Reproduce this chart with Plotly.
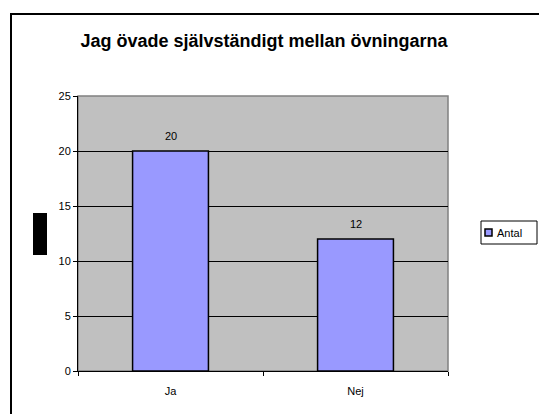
import plotly.graph_objects as go

categories = ["Ja", "Nej"]
antal = [20, 12]
y_ticks = [0, 5, 10, 15, 20, 25]
series_name = "Antal"

PL, PR, PT, PB = 78, 448, 96, 371  # plot area in pixels
pw, ph = PR - PL, PB - PT


def px_x(x):
    return (x - PL) / pw


def px_y(y):
    return (PB - y) / ph


fig = go.Figure()
fig.add_trace(go.Bar(
    x=categories, y=antal, name=series_name,
    marker=dict(color="#9999FF", line=dict(color="black", width=1.5)),
    width=0.41, showlegend=False,
))

for c, v in zip(categories, antal):
    fig.add_annotation(x=c, y=v, text=str(v), showarrow=False,
                       yshift=15, font=dict(size=11, color="black"))

fig.update_layout(
    width=539, height=414,
    margin=dict(l=PL, r=539 - PR, t=PT, b=414 - PB),
    paper_bgcolor="white", plot_bgcolor="#C0C0C0",
    font=dict(family="Arial, Liberation Sans", size=11, color="black"),
    title=dict(text="<b>Jag övade självständigt mellan övningarna</b>",
               x=264 / 539, xanchor="center", y=1 - 41 / 414, yanchor="middle",
               font=dict(size=18, color="black")),
    showlegend=False,
    bargap=0.59,
)

fig.update_xaxes(showline=True, linecolor="black", linewidth=1,
                 ticks="outside", tickson="boundaries", ticklen=4,
                 tickcolor="black", showgrid=False, ticklabelstandoff=10)
fig.update_yaxes(range=[0, 25], tickvals=y_ticks, showline=True,
                 linecolor="black", linewidth=1, ticks="outside", ticklen=4,
                 tickcolor="black", showgrid=True, gridcolor="black",
                 gridwidth=1, zeroline=False)

# plot area frame (grey top/right)
fig.add_shape(type="rect", xref="paper", yref="paper", x0=0, x1=1, y0=0, y1=1,
              line=dict(color="#808080", width=1.5), layer="below")
# outer chart frame
fig.add_shape(type="rect", xref="paper", yref="paper",
              x0=px_x(11), x1=px_x(545), y0=px_y(420), y1=px_y(14),
              line=dict(color="black", width=2))
# y-axis title block
fig.add_shape(type="rect", xref="paper", yref="paper",
              x0=px_x(33), x1=px_x(47), y0=px_y(255), y1=px_y(213),
              fillcolor="black", line=dict(width=0))

# legend box
fig.add_shape(type="rect", xref="paper", yref="paper",
              x0=px_x(481), x1=px_x(537), y0=px_y(244), y1=px_y(221),
              fillcolor="white", line=dict(color="black", width=1))
fig.add_shape(type="rect", xref="paper", yref="paper",
              x0=px_x(485), x1=px_x(492), y0=px_y(236), y1=px_y(229),
              fillcolor="#9999FF", line=dict(color="black", width=1.5))
fig.add_annotation(xref="paper", yref="paper", x=px_x(495), y=px_y(232.5),
                   xanchor="left", yanchor="middle", showarrow=False,
                   text=series_name, font=dict(size=11, color="black"))

fig.write_html("out.html", config={"displayModeBar": False},
               post_script="document.body.style.margin='0';")
